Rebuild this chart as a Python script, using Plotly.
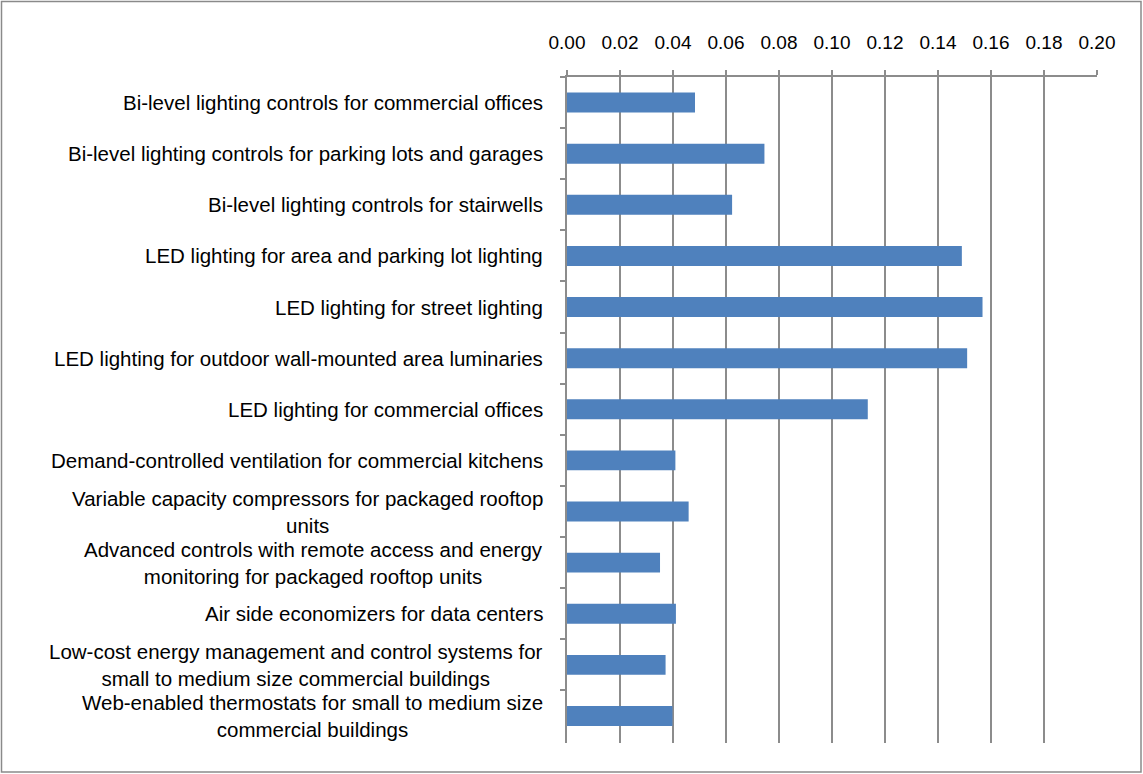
import plotly.graph_objects as go

categories = [
    "Bi-level lighting controls for commercial offices",
    "Bi-level lighting controls for parking lots and garages",
    "Bi-level lighting controls for stairwells",
    "LED lighting for area and parking lot lighting",
    "LED lighting for street lighting",
    "LED lighting for outdoor wall-mounted area luminaries",
    "LED lighting for commercial offices",
    "Demand-controlled ventilation for commercial kitchens",
    "Variable capacity compressors for packaged rooftop<br>units",
    "Advanced controls with remote access and energy<br>monitoring for packaged rooftop units",
    "Air side economizers for data centers",
    "Low-cost energy management and control systems for<br>small to medium size commercial buildings",
    "Web-enabled thermostats for small to medium size<br>commercial buildings",
]
values = [0.0483, 0.0745, 0.0623, 0.149, 0.1568, 0.151, 0.1135,
          0.0409, 0.0459, 0.0351, 0.0411, 0.0372, 0.0398]
tick_vals = [0.00, 0.02, 0.04, 0.06, 0.08, 0.10, 0.12, 0.14, 0.16, 0.18, 0.20]

W, H = 1143, 774
L, R, T, B = 567, 46, 77, 31
pw, ph = W - L - R, H - T - B
FONT = "Liberation Sans, Arial, sans-serif"
GRID = "#8c8c8c"

fig = go.Figure()
fig.add_trace(go.Bar(
    y=categories, x=values, orientation="h",
    marker=dict(color="#4F81BD", line=dict(width=0)),
    hoverinfo="x+y",
))

annotations = []
for c in categories:
    annotations.append(dict(
        x=0, xref="paper", y=c, yref="y", text=c, showarrow=False,
        xanchor="right", yanchor="middle", align="center", xshift=-22,
        font=dict(family=FONT, size=20.5, color="#000000"),
    ))

fig.update_layout(
    width=W, height=H,
    margin=dict(l=L, r=R, t=T, b=B),
    paper_bgcolor="white", plot_bgcolor="white",
    showlegend=False,
    bargap=0.61,
    font=dict(family=FONT, size=19, color="#000000"),
    annotations=annotations,
    shapes=[dict(
        type="rect", xref="paper", yref="paper",
        x0=(1.5 - L) / pw, x1=(W - 2 - L) / pw,
        y0=(H - B - (H - 2)) / ph, y1=(H - B - 1.5) / ph,
        line=dict(color="#8a8a8a", width=1.5), fillcolor="rgba(0,0,0,0)",
        layer="below",
    )],
    xaxis=dict(
        side="top", range=[0, 0.2], tickvals=tick_vals,
        ticktext=[f"{v:.2f}" for v in tick_vals],
        showgrid=True, gridcolor=GRID, gridwidth=1.5,
        showline=True, linecolor=GRID, linewidth=1.5,
        ticks="outside", ticklen=5, tickcolor=GRID, tickwidth=1.5,
        zeroline=False, ticklabelstandoff=14,
        tickfont=dict(family=FONT, size=19, color="#000000"),
    ),
    yaxis=dict(
        type="category", autorange="reversed",
        showticklabels=False, showgrid=False, zeroline=False,
        showline=True, linecolor=GRID, linewidth=1.5,
        ticks="outside", ticklen=5, tickcolor=GRID, tickwidth=1.5,
        tickson="boundaries",
    ),
)

fig.write_html(
    "out.html",
    config={"displayModeBar": False},
    post_script="document.body.style.margin='0';document.body.style.overflow='hidden';",
)
